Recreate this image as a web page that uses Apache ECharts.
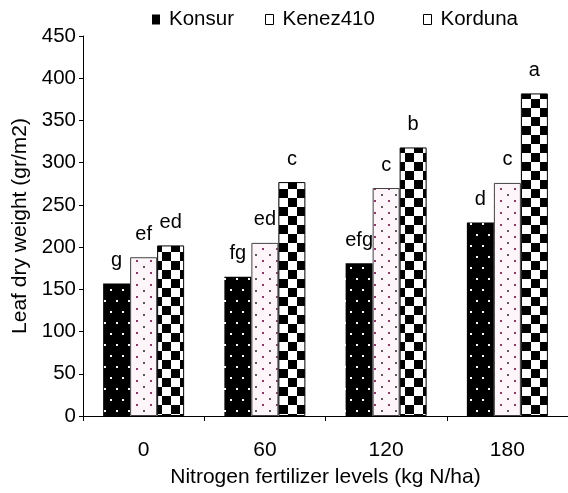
<!DOCTYPE html>
<html>
<head>
<meta charset="utf-8">
<script src="https://cdn.jsdelivr.net/npm/echarts@6/dist/echarts.min.js"></script>
<style>
  html, body { margin: 0; padding: 0; background: #fff; }
  #chart { width: 568px; height: 493px; }
</style>
</head>
<body>
<div id="chart"></div>
<script>
// data
var categories = ['0', '60', '120', '180'];
var seriesNames = ['Konsur', 'Kenez410', 'Korduna'];
var konsur = [157, 165, 181, 229];
var kenez410 = [188, 205, 270, 276];
var korduna = [202, 277, 318, 382];
var konsurLetters = ['g', 'fg', 'efg', 'd'];
var kenezLetters = ['ef', 'ed', 'c', 'c'];
var kordunaLetters = ['ed', 'c', 'b', 'a'];
var yTicks = [0, 50, 100, 150, 200, 250, 300, 350, 400, 450];

var font = 'Liberation Sans';

// fill patterns, drawn on small canvases
function makePattern(w, h, draw) {
  var c = document.createElement('canvas');
  c.width = w;
  c.height = h;
  draw(c.getContext('2d'));
  return { image: c, repeat: 'repeat' };
}

var dotsBlack = makePattern(12, 22, function (ctx) {
  ctx.fillStyle = '#000';
  ctx.fillRect(0, 0, 12, 22);
  ctx.fillStyle = '#fff';
  ctx.fillRect(2, 3, 2, 2);
  ctx.fillRect(8, 14, 2, 2);
});

var dotsPink = makePattern(14, 12, function (ctx) {
  ctx.fillStyle = '#fdf5f9';
  ctx.fillRect(0, 0, 14, 12);
  ctx.fillStyle = '#5a5a5a';
  ctx.fillRect(3, 2, 2, 2);
  ctx.fillStyle = '#8c3b66';
  ctx.fillRect(10, 8, 2, 2);
});

var checker = makePattern(18, 18, function (ctx) {
  ctx.fillStyle = '#fff';
  ctx.fillRect(0, 0, 18, 18);
  ctx.fillStyle = '#000';
  ctx.fillRect(0, 0, 9, 9);
  ctx.fillRect(9, 9, 9, 9);
});

function letterLabel(letters) {
  return {
    show: true,
    position: 'top',
    distance: 13,
    fontSize: 20,
    color: '#000',
    fontFamily: font,
    formatter: function (p) { return letters[p.dataIndex]; }
  };
}

function legendAt(name, left, iconStyle) {
  return {
    data: [{ name: name, icon: 'rect', itemStyle: iconStyle }],
    left: left,
    top: 4,
    itemWidth: 8,
    itemHeight: 10,
    textStyle: { fontSize: 20.5, color: '#000', fontFamily: font, padding: [0, 0, 0, 4] },
    selectedMode: false
  };
}

var chart = echarts.init(document.getElementById('chart'));
chart.setOption({
  animation: false,
  legend: [
    legendAt('Konsur', 147, { color: '#000', borderWidth: 0 }),
    legendAt('Kenez410', 260, { color: '#fff', borderColor: '#000', borderWidth: 1 }),
    legendAt('Korduna', 418, { color: '#fff', borderColor: '#000', borderWidth: 1 })
  ],
  grid: {
    left: 83,
    top: 36,
    bottom: 77,
    width: 490,
    containLabel: false
  },
  xAxis: {
    type: 'category',
    data: categories,
    name: 'Nitrogen fertilizer levels (kg N/ha)',
    nameLocation: 'middle',
    nameGap: 51,
    nameTextStyle: { fontSize: 21, color: '#000', fontFamily: font },
    axisLine: { lineStyle: { color: '#000', width: 1 } },
    axisTick: { show: true, length: 5, lineStyle: { color: '#000' } },
    axisLabel: { fontSize: 21, color: '#000', margin: 24, fontFamily: font }
  },
  yAxis: {
    type: 'value',
    min: yTicks[0],
    max: yTicks[yTicks.length - 1],
    interval: 50,
    name: 'Leaf dry weight (gr/m2)',
    nameLocation: 'middle',
    nameGap: 52,
    nameTextStyle: { fontSize: 21, color: '#000', fontFamily: font },
    axisLine: { show: true, lineStyle: { color: '#000', width: 1 } },
    axisTick: { show: true, length: 4, lineStyle: { color: '#000' } },
    axisLabel: { fontSize: 20.5, color: '#000', margin: 7, fontFamily: font },
    splitLine: { show: false }
  },
  series: [
    {
      name: seriesNames[0],
      type: 'bar',
      data: konsur,
      barWidth: 27,
      barGap: '0%',
      itemStyle: { color: dotsBlack },
      label: letterLabel(konsurLetters)
    },
    {
      name: seriesNames[1],
      type: 'bar',
      data: kenez410,
      barWidth: 27,
      barGap: '0%',
      itemStyle: { color: dotsPink, borderColor: '#444', borderWidth: 1 },
      label: letterLabel(kenezLetters)
    },
    {
      name: seriesNames[2],
      type: 'bar',
      data: korduna,
      barWidth: 27,
      barGap: '0%',
      itemStyle: { color: checker, borderColor: '#000', borderWidth: 1 },
      label: letterLabel(kordunaLetters)
    }
  ]
});
</script>
</body>
</html>
